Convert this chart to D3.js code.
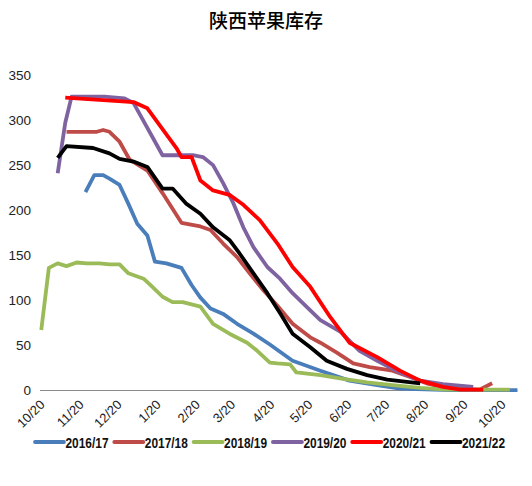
<!DOCTYPE html>
<html><head><meta charset="utf-8">
<script src="https://cdn.jsdelivr.net/npm/d3@7"></script>
<style>body{margin:0;background:#fff}</style>
</head><body>
<svg id="c" width="532" height="486"></svg>
<script>
const title = "陕西苹果库存";
const seriesNames = ["2016/17","2017/18","2018/19","2019/20","2020/21","2021/22"];
const seriesColors = ["#4A7EBB","#BE4B48","#9BBB59","#7F63A1","#FF0000","#000000"];
const yTicks = [0,50,100,150,200,250,300,350];
const xTickLabels = ["10/20","11/20","12/20","1/20","2/20","3/20","4/20","5/20","6/20","7/20","8/20","9/20","10/20"];
const xTickDates = ["2020-10-20","2020-11-20","2020-12-20","2021-01-20","2021-02-20","2021-03-20","2021-04-20","2021-05-20","2021-06-20","2021-07-20","2021-08-20","2021-09-20","2021-10-20"];

// all seasons aligned on a common Oct–Oct calendar
const s2016 = [["2020-11-25",220],["2020-12-02",239],["2020-12-09",239],["2020-12-14",235],["2020-12-22",228],["2020-12-29",207],["2021-01-05",185],["2021-01-13",172],["2021-01-19",143],["2021-01-28",141],["2021-02-09",136],["2021-02-17",117],["2021-02-24",103],["2021-03-04",91],["2021-03-14",85],["2021-03-25",74],["2021-04-07",63],["2021-04-20",51],["2021-04-28",43],["2021-05-08",33],["2021-05-30",22],["2021-06-22",11],["2021-07-14",6],["2021-08-01",2],["2021-09-10",0.5],["2021-11-02",0.5]];
const s2017 = [["2020-11-10",287],["2020-12-04",287],["2020-12-09",289],["2020-12-14",287],["2020-12-22",276],["2020-12-30",256],["2021-01-13",244],["2021-01-25",219],["2021-02-09",186],["2021-02-24",182],["2021-03-04",178],["2021-03-14",163],["2021-03-25",148],["2021-04-04",130],["2021-04-15",111],["2021-04-26",94],["2021-05-08",74],["2021-05-22",59],["2021-05-30",53],["2021-06-12",42],["2021-06-25",30],["2021-07-08",26],["2021-07-26",22],["2021-08-09",15],["2021-08-22",8],["2021-09-07",3],["2021-10-03",1],["2021-10-13",8]];
const s2018 = [["2020-10-21",67],["2020-10-27",136],["2020-11-03",141],["2020-11-10",138],["2020-11-18",142],["2020-11-26",141],["2020-12-06",141],["2020-12-14",140],["2020-12-22",140],["2020-12-29",130],["2021-01-10",124],["2021-01-17",115],["2021-01-25",104],["2021-02-02",98],["2021-02-10",98],["2021-02-24",93],["2021-03-06",74],["2021-03-19",63],["2021-04-02",53],["2021-04-10",44],["2021-04-20",31],["2021-04-26",30],["2021-05-06",29],["2021-05-11",20],["2021-05-30",17],["2021-06-17",13],["2021-07-06",9],["2021-07-26",6],["2021-08-17",3],["2021-09-07",1],["2021-10-27",1]];
const s2019 = [["2020-11-03",241],["2020-11-09",297],["2020-11-14",326],["2020-12-10",326],["2020-12-26",324],["2021-01-02",319],["2021-01-25",261],["2021-02-18",261],["2021-02-26",259],["2021-03-06",250],["2021-03-14",230],["2021-03-22",208],["2021-03-30",181],["2021-04-07",159],["2021-04-18",137],["2021-04-28",124],["2021-05-08",108],["2021-05-22",89],["2021-05-30",78],["2021-06-15",65],["2021-06-30",44],["2021-07-14",33],["2021-08-01",20],["2021-08-17",11],["2021-09-04",7],["2021-09-28",4]];
const s2020 = [["2020-11-09",325],["2021-01-02",320],["2021-01-13",313],["2021-02-05",269],["2021-02-09",259],["2021-02-17",259],["2021-02-24",233],["2021-03-06",222],["2021-03-19",217],["2021-03-30",206],["2021-04-12",189],["2021-04-26",163],["2021-05-08",137],["2021-05-22",115],["2021-06-07",81],["2021-06-22",53],["2021-07-14",37],["2021-08-01",22],["2021-08-17",11],["2021-09-04",4],["2021-09-18",1],["2021-10-06",1]];
const s2021 = [["2020-11-03",258],["2020-11-10",271],["2020-12-01",269],["2020-12-14",263],["2020-12-22",257],["2021-01-02",254],["2021-01-13",248],["2021-01-25",224],["2021-02-02",224],["2021-02-13",207],["2021-02-24",196],["2021-03-06",181],["2021-03-19",167],["2021-03-27",152],["2021-04-07",130],["2021-04-18",108],["2021-04-28",86],["2021-05-08",63],["2021-05-22",48],["2021-06-04",33],["2021-06-20",24],["2021-07-06",17],["2021-07-22",12],["2021-08-17",8]];
const seriesData = [s2016,s2017,s2018,s2019,s2020,s2021];

const parse = d3.timeParse("%Y-%m-%d");
const svg = d3.select("#c");
const x = d3.scaleTime().domain([parse("2020-10-20"), parse("2021-10-20")]).range([40, 501]);
const y = d3.scaleLinear().domain([0, 350]).range([390.5, 75]);

svg.append("text").attr("x", 266).attr("y", 28).attr("text-anchor","middle")
  .attr("font-family","'Noto Sans CJK SC'").attr("font-size",19).attr("font-weight",500)
  .attr("fill","#000").text(title);

// y axis labels (no axis line)
const yAxis = d3.axisLeft(y).tickValues(yTicks).tickSize(0).tickPadding(0);
const gy = svg.append("g").attr("transform","translate(31,0)").call(yAxis);
gy.select(".domain").remove();
gy.selectAll("text").attr("font-family","'Liberation Sans', Arial").attr("font-size",13.5).attr("fill","#222");

// baseline
const lastDate = d3.max(seriesData.flat(), d => parse(d[0]));
svg.append("line").attr("x1", x(parse("2020-10-20"))).attr("x2", x(lastDate))
  .attr("y1", y(0)).attr("y2", y(0)).attr("stroke","#8a8a8a").attr("stroke-width",1.2);

// x tick labels
const xAxis = d3.axisBottom(x).tickValues(xTickDates.map(parse)).tickSize(0)
  .tickFormat((d,i) => xTickLabels[i]);
const gx = svg.append("g").attr("transform", `translate(0,${y(0)})`).call(xAxis);
gx.select(".domain").remove();
gx.selectAll("text").attr("font-family","'Liberation Sans', Arial").attr("font-size",13).attr("fill","#222")
  .attr("text-anchor","end").attr("dy",null).attr("y",0)
  .attr("transform","translate(5,15) rotate(-45)");

// lines
const line = d3.line().x(d => x(parse(d[0]))).y(d => y(d[1]));
seriesData.forEach((s, i) => {
  svg.append("path").datum(s).attr("d", line).attr("fill","none")
    .attr("stroke", seriesColors[i]).attr("stroke-width", 3.8)
    .attr("stroke-linejoin","round").attr("stroke-linecap","butt");
});

// legend
const lg = svg.append("g").attr("transform","translate(35,442)");
seriesNames.forEach((n, i) => {
  const g = lg.append("g").attr("transform", `translate(${i*79.3},0)`);
  g.append("line").attr("x1",0).attr("x2",29).attr("y1",0).attr("y2",0)
    .attr("stroke", seriesColors[i]).attr("stroke-width",3.8).attr("stroke-linecap","round");
  g.append("text").attr("x",30.5).attr("y",5.5).attr("font-family","'Liberation Sans', Arial")
    .attr("font-size",15).attr("font-weight","bold").attr("fill","#111")
    .attr("textLength",43).attr("lengthAdjust","spacingAndGlyphs").text(n);
});
</script>
</body></html>
